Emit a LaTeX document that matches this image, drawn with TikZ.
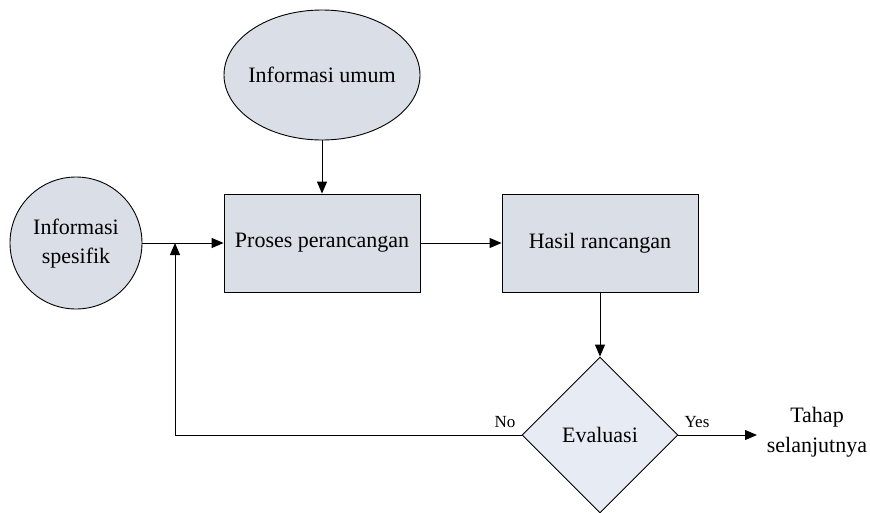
\documentclass[tikz,border=0pt]{standalone}
\usepackage{fontspec}
\setmainfont{Liberation Serif}
\usetikzlibrary{shapes.geometric,arrows.meta}
\definecolor{shapefill}{HTML}{D9DEE7}
\definecolor{dfill}{HTML}{E6EBF4}
\begin{document}
\begin{tikzpicture}[x=1pt,y=-1pt,
  every node/.style={font=\fontsize{22}{31}\selectfont, text=black},
  shp/.style={draw=black, line width=0.9pt, fill=shapefill, inner sep=0pt},
  conn/.style={draw=black, line width=1pt, -{Triangle[length=12pt,width=10pt]}},
  lbl/.style={font=\fontsize{17}{20}\selectfont}]
\useasboundingbox (0,0) rectangle (870,512);
\node[shp, ellipse, minimum width=196pt, minimum height=130pt] (umum) at (322,75) {\makebox[0pt]{Informasi umum}};
\node[shp, circle, minimum size=132pt] (spes) at (76,243) {\makebox[0pt]{\begin{tabular}{@{}c@{}}Informasi\\[-2pt]spesifik\end{tabular}}};
\node[shp, rectangle, minimum width=196pt, minimum height=98pt] (proses) at (322,243) {Proses perancangan};
\node[shp, rectangle, minimum width=196pt, minimum height=98pt] (hasil) at (600,243) {Hasil rancangan};
\node[shp, diamond, fill=dfill, minimum width=156pt, minimum height=156pt] (eval) at (600,435) {\makebox[0pt]{Evaluasi}};
\node[align=center, font=\fontsize{22}{30}\selectfont] (tahap) at (817,432) {Tahap\\selanjutnya};
\coordinate (tip) at (757,435);
\coordinate (corner) at (175,435);
\coordinate (join) at (175,243);
\draw[conn] (umum.south) -- (proses.north);
\draw[conn] (spes.east) -- (proses.west);
\draw[conn] (proses.east) -- (hasil.west);
\draw[conn] (hasil.south) -- (eval.north);
\draw[conn] (eval.west) -- (corner) -- (join);
\draw[conn] (eval.east) -- (tip);
\node[lbl] (no) at (505,422) {No};
\node[lbl] (yes) at (697,422) {Yes};
\end{tikzpicture}
\end{document}
